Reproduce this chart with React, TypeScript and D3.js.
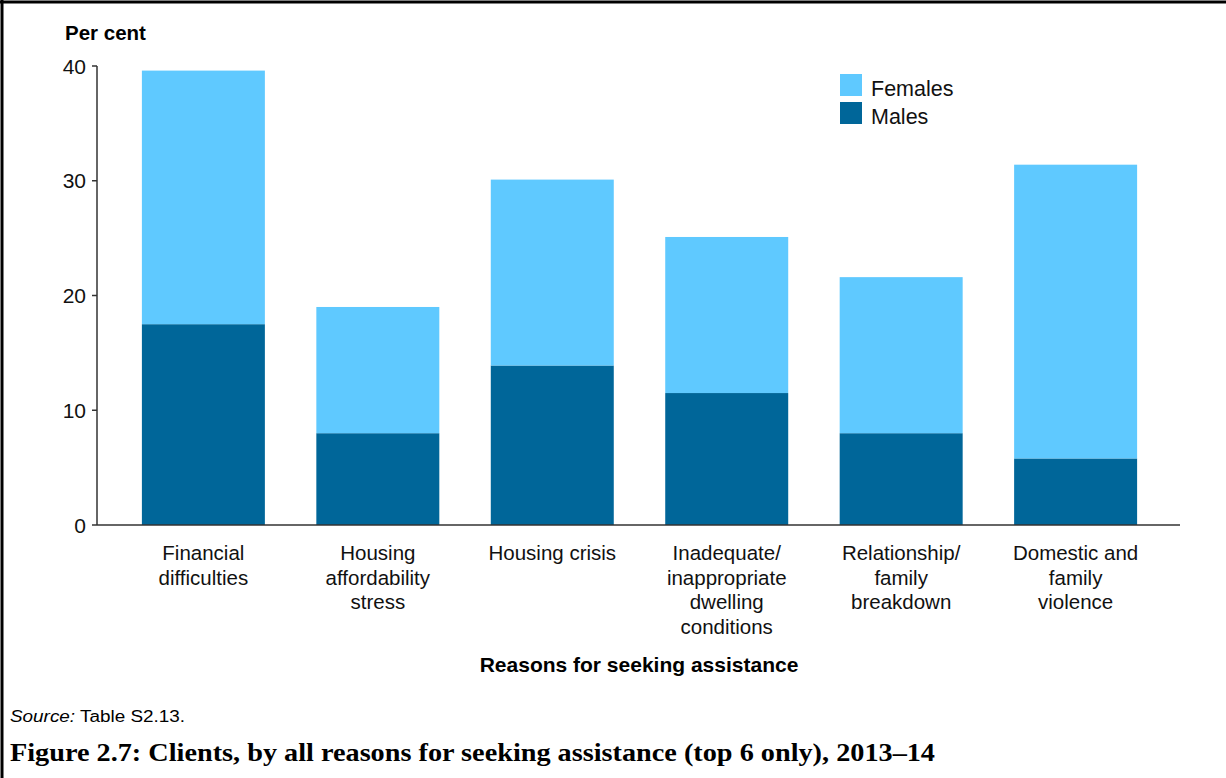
import React from "react";
import * as d3 from "d3";

const categories = [
  ["Financial", "difficulties"],
  ["Housing", "affordability", "stress"],
  ["Housing crisis"],
  ["Inadequate/", "inappropriate", "dwelling", "conditions"],
  ["Relationship/", "family", "breakdown"],
  ["Domestic and", "family", "violence"],
];
const males = [17.5, 8.0, 13.9, 11.5, 8.0, 5.8];
const females = [22.1, 11.0, 16.2, 13.6, 13.6, 25.6];
const yTicks = [0, 10, 20, 30, 40];
const seriesNames = ["Females", "Males"];

const W = 1226;
const H = 778;
const FEMALE = "#5FC9FF";
const MALE = "#006699";
const SANS = "'Liberation Sans', Arial, sans-serif";
const SERIF = "'Liberation Serif', 'DejaVu Serif', serif";

export default function App() {
  const keys = categories.map((c) => c.join(" "));
  const x = d3
    .scaleBand<string>()
    .domain(keys)
    .range([107, 1172])
    .paddingInner(0.295)
    .paddingOuter(0.2);
  const y = d3.scaleLinear().domain([0, 40]).range([525, 66]);
  const rows = keys.map((k, i) => ({ key: k, Males: males[i], Females: females[i] }));
  const stack = d3.stack<any>().keys(["Males", "Females"]);
  const layers = stack(rows);
  const colors: Record<string, string> = { Males: MALE, Females: FEMALE };

  return (
    <div style={{ position: "fixed", left: 0, top: 0 }}>
      <svg width={W} height={H} style={{ display: "block", background: "#fff" }}>
        <line x1={0} y1={2} x2={W} y2={2} stroke="#000" strokeWidth={3} />
        <line x1={2} y1={0} x2={2} y2={H} stroke="#000" strokeWidth={3} />

        <text x={65} y={40} fontFamily={SANS} fontWeight="bold" fontSize={20.5} fill="#000">
          Per cent
        </text>

        {layers.map((layer) =>
          layer.map((d, i) => (
            <rect
              key={layer.key + i}
              x={x(keys[i])}
              width={x.bandwidth()}
              y={y(d[1])}
              height={y(d[0]) - y(d[1])}
              fill={colors[layer.key]}
            />
          ))
        )}

        {/* y axis */}
        <line x1={97} y1={y(40)} x2={97} y2={y(0)} stroke="#333" strokeWidth={1.5} />
        {yTicks.map((t) => (
          <g key={t}>
            <line x1={92} x2={97} y1={y(t)} y2={y(t)} stroke="#333" strokeWidth={1.5} />
            <text
              x={86}
              y={y(t)}
              dy="0.36em"
              textAnchor="end"
              fontFamily={SANS}
              fontSize={21}
              fill="#111"
            >
              {t}
            </text>
          </g>
        ))}
        {/* x axis */}
        <line x1={97} y1={y(0)} x2={1180} y2={y(0)} stroke="#333" strokeWidth={1.5} />

        {categories.map((lines, i) => (
          <text
            key={i}
            x={(x(keys[i]) as number) + x.bandwidth() / 2}
            y={560}
            textAnchor="middle"
            fontFamily={SANS}
            fontSize={20.5}
            fill="#111"
          >
            {lines.map((l, j) => (
              <tspan key={j} x={(x(keys[i]) as number) + x.bandwidth() / 2} dy={j === 0 ? 0 : 24.6}>
                {l}
              </tspan>
            ))}
          </text>
        ))}

        <text x={639} y={672} textAnchor="middle" fontFamily={SANS} fontWeight="bold" fontSize={21} fill="#000">
          Reasons for seeking assistance
        </text>

        {/* legend */}
        {seriesNames.map((s, i) => (
          <g key={s}>
            <rect x={840} y={74 + i * 28} width={22} height={22} fill={colors[s]} />
            <text x={871} y={96 + i * 28} fontFamily={SANS} fontSize={21.5} fill="#111">
              {s}
            </text>
          </g>
        ))}

        <text x={10} y={722} fontFamily={SANS} fontSize={16} fill="#000" textLength={175} lengthAdjust="spacingAndGlyphs">
          <tspan fontStyle="italic">Source:</tspan> Table S2.13.
        </text>

        <text x={10} y={761} fontFamily={SERIF} fontWeight="bold" fontSize={25} fill="#000" textLength={925} lengthAdjust="spacingAndGlyphs">
          Figure 2.7: Clients, by all reasons for seeking assistance (top 6 only), 2013–14
        </text>
      </svg>
    </div>
  );
}
